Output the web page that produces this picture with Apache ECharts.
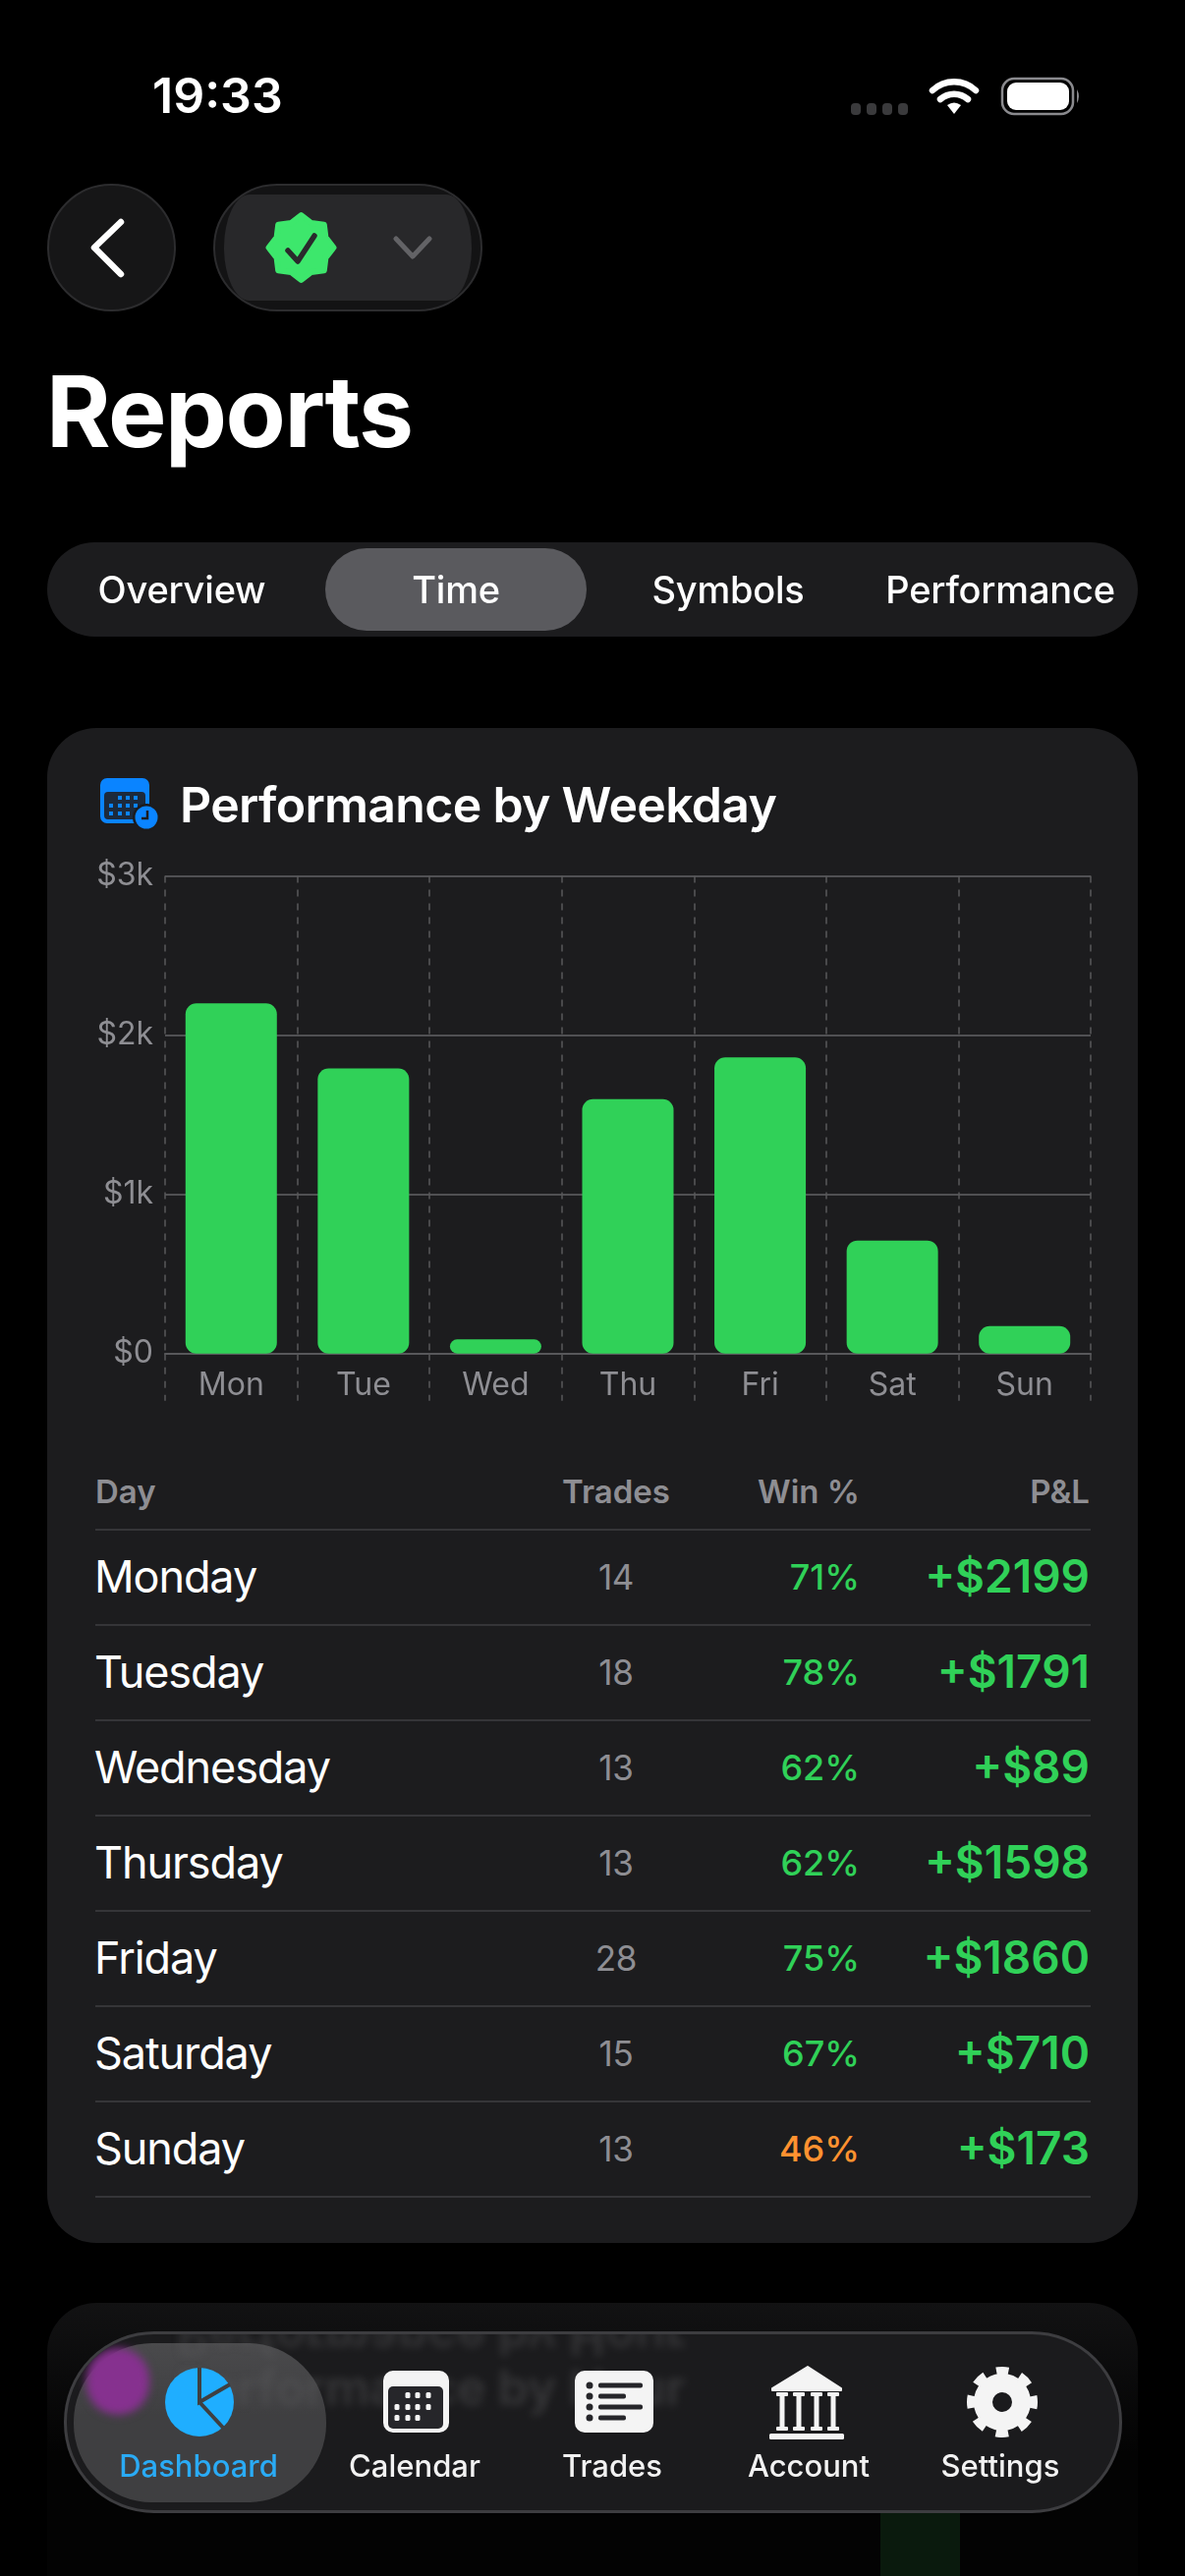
<!DOCTYPE html>
<html><head><meta charset="utf-8">
<script src="https://cdn.jsdelivr.net/npm/echarts@6/dist/echarts.min.js"></script>
<style>
html,body{margin:0;padding:0;background:#000;width:1206px;height:2622px;overflow:hidden;font-family:Inter,"Noto Sans",sans-serif;color:#fff}
.t{position:absolute;white-space:nowrap;line-height:1}
.box{position:absolute;box-sizing:border-box}
svg{position:absolute;left:0;top:0}
#chart{position:absolute;left:48px;top:860px;width:1110px;height:600px}
.blur{position:absolute;white-space:nowrap;line-height:1;color:#5a5a5c;font-weight:600;font-size:50px;filter:blur(4px)}
</style></head><body>
<div class="box" style="left:48px;top:741px;width:1110px;height:1542px;background:#1c1c1e;border-radius:50px"></div>
<div class="box" style="left:48px;top:2344px;width:1110px;height:278px;background:linear-gradient(#121213,#030303 55%);border-radius:50px 50px 0 0"></div>
<div class="box" style="left:896px;top:2550px;width:81px;height:72px;background:#0a1a0d"></div>

<div class="box" style="left:48px;top:552px;width:1110px;height:96px;background:#1c1c1e;border-radius:48px"></div>
<div class="box" style="left:331px;top:558px;width:266px;height:84px;background:#5a5a5e;border-radius:42px"></div>
<div class="box" style="left:48px;top:187px;width:131px;height:130px;background:#161617;border:2px solid #2c2c2e;border-radius:65px"></div>
<div class="box" style="left:217px;top:187px;width:274px;height:130px;background:#131314;border:2px solid #2c2c2e;border-radius:65px"></div>
<div class="box" style="left:228px;top:198px;width:252px;height:108px;background:#28282a;border-radius:26px/54px"></div>

<div id="chart"></div>
<div id="table"></div>

<div class="box" style="left:65px;top:2373px;width:1077px;height:185px;background:#1b1b1d;border:3px solid #3d3d40;border-radius:92px;overflow:hidden">
  <div class="box" style="left:7px;top:9px;width:257px;height:162px;background:linear-gradient(#4a4a4c,#3f3f41 45%);border-radius:80px"></div>
  <div class="box" style="left:20px;top:14px;width:64px;height:68px;background:#86318f;border-radius:34px;filter:blur(4px)"></div>
  <div class="blur" style="left:112px;top:29px;opacity:.45">Performance by Hour</div>
  <div class="blur" style="left:112px;top:-21px;opacity:.4;transform:scaleY(-1)">Performance by Hour</div>
</div>

<svg id="icons" width="1206" height="2622" xmlns="http://www.w3.org/2000/svg"></svg>

<div class="t" style="left:155px;top:72px;font-size:50px;font-weight:600">19:33</div>
<div class="t" style="left:47px;top:369px;font-size:100px;font-weight:700;letter-spacing:-1.5px">Reports</div>
<div id="tabs"></div>
<div class="t" style="left:183px;top:794px;font-size:50px;font-weight:600;letter-spacing:-.7px">Performance by Weekday</div>
<div id="nav"></div>

<script>
// ---- data ----
const weekdays = ['Mon','Tue','Wed','Thu','Fri','Sat','Sun'];
const weekdayNames = ['Monday','Tuesday','Wednesday','Thursday','Friday','Saturday','Sunday'];
const pnl = [2199,1791,89,1598,1860,710,173];
const trades = [14,18,13,13,28,15,13];
const winRate = [71,78,62,62,75,67,46];
const yTickLabels = ['$0','$1k','$2k','$3k'];
const reportTabs = ['Overview','Time','Symbols','Performance'];
const navItems = ['Dashboard','Calendar','Trades','Account','Settings'];
const tableHeads = ['Day','Trades','Win %','P&L'];

// ---- chart ----
const chart = echarts.init(document.getElementById('chart'), null, {renderer:'canvas'});
chart.setOption({
  animation:false,
  backgroundColor:'transparent',
  textStyle:{fontFamily:'Inter'},
  grid:{left:120,right:48,top:31.5,height:486.2,containLabel:false},
  xAxis:{
    type:'category',data:weekdays,boundaryGap:true,
    axisLine:{show:true,lineStyle:{color:'#58585b',width:2}},
    axisTick:{show:true,length:48,interval:0,alignWithLabel:false,lineStyle:{color:'#58585b',width:1.5,type:[7,7]}},
    splitLine:{show:true,interval:0,lineStyle:{color:'#58585b',width:1.5,type:[7,7]}},
    axisLabel:{color:'#8e8e93',fontSize:32,margin:17,interval:0,fontFamily:'Inter'}
  },
  yAxis:{
    type:'value',min:0,max:3000,interval:1000,
    axisLine:{show:false},axisTick:{show:false},
    splitLine:{show:true,lineStyle:{color:'#505053',width:2}},
    axisLabel:{color:'#8e8e93',fontSize:32,margin:12,fontFamily:'Inter',padding:[3,0,0,0],
      formatter:(v)=>yTickLabels[v/1000]}
  },
  series:[{type:'bar',data:pnl,barWidth:93,itemStyle:{color:'#30D158',borderRadius:11}}]
});

// ---- table ----
const tableEl = document.getElementById('table');
function addT(parent,text,css){const d=document.createElement('div');d.className='t';d.textContent=text;d.style.cssText=css;parent.appendChild(d);return d;}
const GREEN='#30D158',ORANGE='#FF9230';
function pos(x,y,align){return align==='l'?`left:${x}px;top:${y}px;transform:translateY(-50%);`:align==='r'?`right:${1206-x}px;top:${y}px;transform:translateY(-50%);`:`left:${x}px;top:${y}px;transform:translate(-50%,-50%);`;}
const headCss='font-size:33px;font-weight:600;color:#8e8e93;';
addT(tableEl,tableHeads[0],pos(97,1518,'l')+headCss);
addT(tableEl,tableHeads[1],pos(627,1518,'c')+headCss);
addT(tableEl,tableHeads[2],pos(875,1518,'r')+headCss);
addT(tableEl,tableHeads[3],pos(1109,1518,'r')+headCss);
const rowTop=1557,rowH=97;
function hline(y){const d=document.createElement('div');d.className='box';d.style.cssText=`left:97px;width:1013px;top:${y}px;height:2px;background:#353538`;tableEl.appendChild(d);}
hline(rowTop-1);
weekdayNames.forEach((n,i)=>{
  const cy=rowTop+rowH*i+48.5;
  addT(tableEl,n,pos(96,cy-2,'l')+'font-size:45px;font-weight:400;color:#fff;letter-spacing:-1.1px;');
  addT(tableEl,String(trades[i]),pos(627,cy-1,'c')+'font-size:35px;color:#8e8e93;letter-spacing:-.3px;');
  addT(tableEl,winRate[i]+'%',pos(875,cy-1,'r')+`font-size:36px;font-weight:500;color:${winRate[i]<50?ORANGE:GREEN};`);
  addT(tableEl,'+$'+pnl[i],pos(1109,cy-1.5,'r')+'font-size:46px;font-weight:600;color:'+GREEN+';');
  hline(rowTop+rowH*(i+1)-1);
});

// ---- tabs / nav labels ----
const tabsEl=document.getElementById('tabs');
[185,464,741,1018].forEach((x,i)=>addT(tabsEl,reportTabs[i],pos(x,600,'c')+'font-size:38px;font-weight:500;color:#fff;letter-spacing:-.2px;'));
const navEl=document.getElementById('nav');
[202,422,623,823,1018].forEach((x,i)=>addT(navEl,navItems[i],pos(x,2509,'c')+`font-size:31px;font-weight:500;color:${i==0?'#2AABF5':'#f2f2f2'};`));

// ---- icons (interface chrome only) ----
function star(cx,cy,ro,ri,n){let p=[];for(let i=0;i<n*2;i++){const a=-Math.PI/2+i*Math.PI/n,r=i%2?ri:ro;p.push((cx+r*Math.cos(a)).toFixed(1)+','+(cy+r*Math.sin(a)).toFixed(1));}return p.join(' ');}
let s='';
// status bar
[871,887,903,919].forEach(x=>s+=`<rect x="${x-5}" y="105" width="10" height="12" rx="4" fill="#3a3a3c"/>`);
s+=`<path d="M949 92a32 32 0 0 1 44 0" fill="none" stroke="#fff" stroke-width="6.5" stroke-linecap="round"/><path d="M957 101a21 21 0 0 1 28 0" fill="none" stroke="#fff" stroke-width="6.5" stroke-linecap="round"/><path d="M964 107q7-5 14 0l-7 9z" fill="#fff"/>`;
s+=`<rect x="1020" y="80" width="72" height="36" rx="12" fill="none" stroke="#8a8a8e" stroke-width="2.5"/><rect x="1025" y="84" width="63" height="28" rx="9" fill="#fff"/><path d="M1096 91q4 7 0 14z" fill="#8a8a8e"/>`;
// back, badge, chevron
s+=`<path d="M123 226L96 252L123 279" fill="none" stroke="#fff" stroke-width="6.5" stroke-linecap="round" stroke-linejoin="round"/>`;
s+=`<polygon points="${star(306.5,252,33,27,8)}" fill="#3DE76C" stroke="#3DE76C" stroke-width="6" stroke-linejoin="round"/>`;
s+=`<path d="M293 255L303 266L320 240" fill="none" stroke="#2a2a2c" stroke-width="5.5" stroke-linecap="round" stroke-linejoin="round"/>`;
s+=`<path d="M403 243L420 261L437 243" fill="none" stroke="#636366" stroke-width="5" stroke-linecap="round" stroke-linejoin="round"/>`;
// title icon
s+=`<rect x="102" y="792" width="50" height="46" rx="7" fill="#0A84FF"/><rect x="106" y="806" width="42" height="28" rx="4" fill="#1c2a3c"/>`;
[[122,812],[130,812],[138,812],[113,820],[122,820],[130,820],[138,820],[113,828],[122,828],[130,828]].forEach(d=>s+=`<rect x="${d[0]-2}" y="${d[1]-2}" width="4" height="4" fill="#0A84FF"/>`);
s+=`<circle cx="149" cy="832" r="14" fill="#1c1c1e"/><circle cx="149" cy="832" r="11.5" fill="#0A84FF"/><path d="M150 825V833H144" fill="none" stroke="#1c1c1e" stroke-width="2.5"/>`;
// nav icons
s+=`<circle cx="203" cy="2445" r="35" fill="#1FAEFF"/><path d="M203 2410V2445L234 2427M203 2445L227 2471" fill="none" stroke="#3f3f41" stroke-width="4"/>`;
s+=`<rect x="390" y="2413" width="67" height="63" rx="10" fill="#f4f4f4"/><rect x="395" y="2429" width="56" height="43" rx="5" fill="#26262a"/>`;
[[415,2438],[425,2438],[436,2438],[404,2450],[415,2450],[425,2450],[436,2450],[404,2461],[415,2461],[425,2461]].forEach(d=>s+=`<rect x="${d[0]-2.5}" y="${d[1]-3}" width="5" height="6" rx="1.5" fill="#f4f4f4"/>`);
s+=`<rect x="585" y="2413" width="80" height="63" rx="10" fill="#f4f4f4"/>`;
[[2428,654],[2439,637],[2450,654],[2461,637]].forEach(r=>{s+=`<circle cx="600" cy="${r[0]}" r="3.5" fill="#26262a"/><rect x="609" y="${r[0]-2.5}" width="${r[1]-609}" height="5" rx="2" fill="#26262a"/>`;});
s+=`<path d="M822 2409L856 2431V2433H786V2431Z" fill="#f4f4f4" stroke="#f4f4f4" stroke-width="2" stroke-linejoin="round"/>`;
[796,813,831,848].forEach(x=>s+=`<rect x="${x-2.5}" y="2439" width="5" height="32" fill="#f4f4f4"/><rect x="${x-6}" y="2435" width="12" height="4" rx="1" fill="#f4f4f4"/><rect x="${x-6}" y="2470" width="12" height="4" rx="1" fill="#f4f4f4"/>`);
s+=`<rect x="783" y="2477" width="76" height="6" rx="1.5" fill="#f4f4f4"/>`;
s+=`<circle cx="1020" cy="2445" r="19.5" fill="none" stroke="#f4f4f4" stroke-width="19"/><circle cx="1020" cy="2445" r="31" fill="none" stroke="#f4f4f4" stroke-width="10" stroke-dasharray="12.3 12.05" stroke-dashoffset="6.1" transform="rotate(-90 1020 2445)"/>`;
document.getElementById('icons').innerHTML=s;
</script>
</body></html>
